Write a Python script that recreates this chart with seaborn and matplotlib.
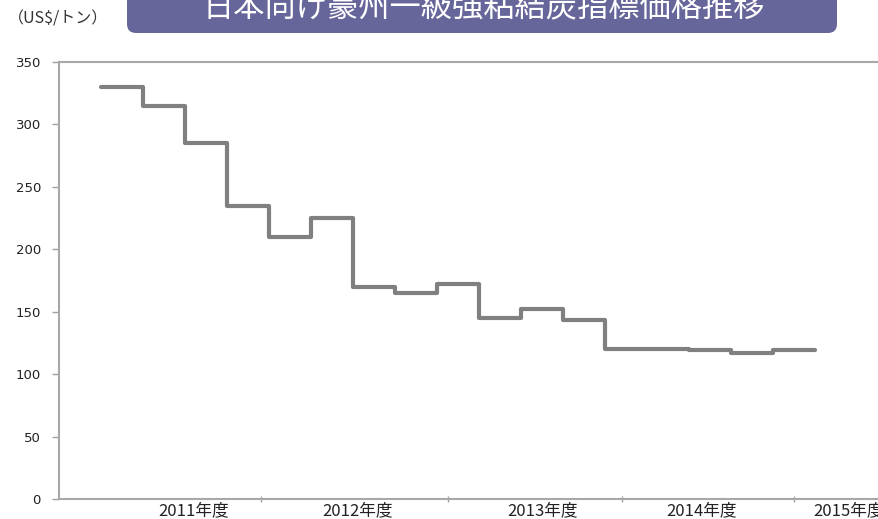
import pandas as pd
import seaborn as sns
import matplotlib.pyplot as plt
from matplotlib.patches import FancyBboxPatch
from matplotlib.transforms import IdentityTransform

# 四半期ごとの指標価格 (US$/トン), 2011年度Q1 〜 2015年度Q1
quarters = ['11Q1', '11Q2', '11Q3', '11Q4', '12Q1', '12Q2', '12Q3', '12Q4',
            '13Q1', '13Q2', '13Q3', '13Q4', '14Q1', '14Q2', '14Q3', '14Q4', '15Q1']
prices = [330, 315, 285, 235, 210, 225, 170, 165,
          172, 145, 152, 143, 120, 120, 119, 117, 119]
year_labels = ['2011年度', '2012年度', '2013年度', '2014年度', '2015年度']
y_ticks = [0, 50, 100, 150, 200, 250, 300, 350]

sns.set_style('white')
plt.rcParams['font.family'] = ['Noto Sans CJK JP', 'DejaVu Sans']

# steps-post: 最後の四半期の終わりまで線を伸ばす
df = pd.DataFrame({'q': list(range(len(prices) + 1)),
                   'price': prices + [prices[-1]]})

fig = plt.figure(figsize=(8.79, 5.19), dpi=100)
W, H = 879, 519
ax = fig.add_axes([59 / W, 20 / H, (900 - 59) / W, (499 - 62) / H])

sns.lineplot(data=df, x='q', y='price', ax=ax, color='#808080',
             linewidth=3.0, drawstyle='steps-post')

ax.set_xlim(-1, 19.02)
ax.set_ylim(0, 350)
ax.set_xlabel('')
ax.set_ylabel('')

ax.set_yticks(y_ticks)
ax.set_yticklabels([str(v) for v in y_ticks], family='DejaVu Sans',
                   fontsize=9.5, color='#222222')
ax.tick_params(axis='y', length=5, width=1, color='#A0A0A0', left=True, pad=8)

# 年度の区切り目盛りとラベル
ax.set_xticks([3.8, 8.25, 12.4, 16.5], minor=True)
ax.set_xticks([2.2, 6.1, 10.5, 14.3, 17.8])
ax.set_xticklabels(year_labels, fontsize=12, color='#222222')
ax.tick_params(axis='x', which='major', length=0, pad=2)
ax.tick_params(axis='x', which='minor', length=4, width=1, color='#A0A0A0',
               bottom=True, direction='inout')

for side in ['left', 'bottom', 'top']:
    ax.spines[side].set_color('#A8A8A8')
    ax.spines[side].set_linewidth(1.5)
ax.spines['right'].set_visible(False)

# タイトルボックス
box = FancyBboxPatch((127, H - 33), 710, 60,
                     boxstyle='round,pad=0,rounding_size=9',
                     transform=IdentityTransform(), facecolor='#67669A',
                     edgecolor='none')
fig.patches.append(box)
fig.text(484 / W, 1 - 8 / H, '日本向け豪州一級強粘結炭指標価格推移',
         ha='center', va='center', fontsize=22.5, color='white')

fig.text(8 / W, 1 - 19 / H, '（US$/トン）', ha='left', va='center',
         fontsize=11.5, color='#333333')

fig.savefig('out.png', dpi=100)
